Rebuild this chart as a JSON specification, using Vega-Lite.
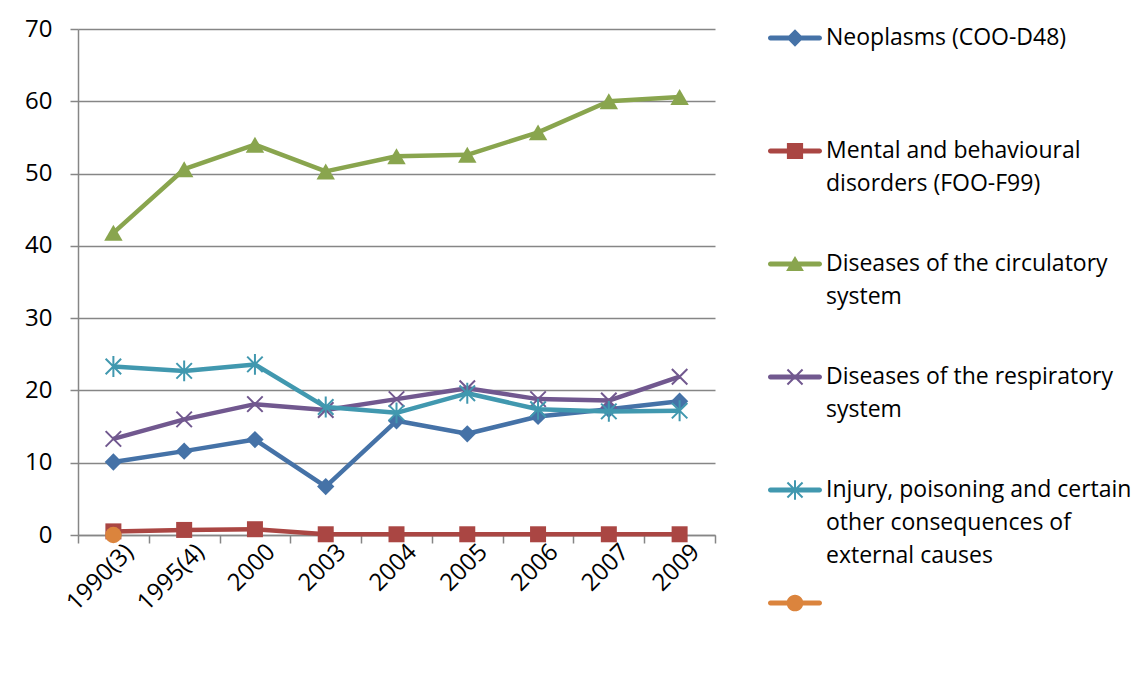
{
  "$schema": "https://vega.github.io/schema/vega-lite/v6.json",
  "width": 637,
  "height": 506,
  "autosize": {"type": "none"},
  "padding": {"left": 78, "top": 29, "right": 431, "bottom": 142},
  "background": "white",
  "config": {
    "view": {"stroke": null},
    "font": "Open Sans",
    "axis": {
      "labelFont": "Open Sans",
      "labelFontSize": 24,
      "labelColor": "#000000",
      "domainColor": "#868686",
      "tickColor": "#868686",
      "gridColor": "#868686",
      "domainWidth": 1.5,
      "tickWidth": 1.5,
      "gridWidth": 1.5,
      "title": null
    },
    "style": {"guide-label": {"lineHeight": 33}}
  },
  "data": {
    "values": [
      {"year": "1990(3)", "series": "Neoplasms (COO-D48)", "value": 10.1},
      {"year": "1995(4)", "series": "Neoplasms (COO-D48)", "value": 11.6},
      {"year": "2000", "series": "Neoplasms (COO-D48)", "value": 13.2},
      {"year": "2003", "series": "Neoplasms (COO-D48)", "value": 6.7},
      {"year": "2004", "series": "Neoplasms (COO-D48)", "value": 15.8},
      {"year": "2005", "series": "Neoplasms (COO-D48)", "value": 14.0},
      {"year": "2006", "series": "Neoplasms (COO-D48)", "value": 16.4},
      {"year": "2007", "series": "Neoplasms (COO-D48)", "value": 17.4},
      {"year": "2009", "series": "Neoplasms (COO-D48)", "value": 18.5},
      {"year": "1990(3)", "series": "Mental and behavioural disorders (FOO-F99)", "value": 0.5},
      {"year": "1995(4)", "series": "Mental and behavioural disorders (FOO-F99)", "value": 0.7},
      {"year": "2000", "series": "Mental and behavioural disorders (FOO-F99)", "value": 0.8},
      {"year": "2003", "series": "Mental and behavioural disorders (FOO-F99)", "value": 0.1},
      {"year": "2004", "series": "Mental and behavioural disorders (FOO-F99)", "value": 0.1},
      {"year": "2005", "series": "Mental and behavioural disorders (FOO-F99)", "value": 0.1},
      {"year": "2006", "series": "Mental and behavioural disorders (FOO-F99)", "value": 0.1},
      {"year": "2007", "series": "Mental and behavioural disorders (FOO-F99)", "value": 0.1},
      {"year": "2009", "series": "Mental and behavioural disorders (FOO-F99)", "value": 0.1},
      {"year": "1990(3)", "series": "Diseases of the circulatory system", "value": 41.8},
      {"year": "1995(4)", "series": "Diseases of the circulatory system", "value": 50.6},
      {"year": "2000", "series": "Diseases of the circulatory system", "value": 54.0},
      {"year": "2003", "series": "Diseases of the circulatory system", "value": 50.3},
      {"year": "2004", "series": "Diseases of the circulatory system", "value": 52.4},
      {"year": "2005", "series": "Diseases of the circulatory system", "value": 52.6},
      {"year": "2006", "series": "Diseases of the circulatory system", "value": 55.7},
      {"year": "2007", "series": "Diseases of the circulatory system", "value": 60.0},
      {"year": "2009", "series": "Diseases of the circulatory system", "value": 60.6},
      {"year": "1990(3)", "series": "Diseases of the respiratory system", "value": 13.3},
      {"year": "1995(4)", "series": "Diseases of the respiratory system", "value": 16.0},
      {"year": "2000", "series": "Diseases of the respiratory system", "value": 18.1},
      {"year": "2003", "series": "Diseases of the respiratory system", "value": 17.3},
      {"year": "2004", "series": "Diseases of the respiratory system", "value": 18.8},
      {"year": "2005", "series": "Diseases of the respiratory system", "value": 20.3},
      {"year": "2006", "series": "Diseases of the respiratory system", "value": 18.8},
      {"year": "2007", "series": "Diseases of the respiratory system", "value": 18.6},
      {"year": "2009", "series": "Diseases of the respiratory system", "value": 21.9},
      {"year": "1990(3)", "series": "Injury, poisoning and certain other consequences of external causes", "value": 23.3},
      {"year": "1995(4)", "series": "Injury, poisoning and certain other consequences of external causes", "value": 22.7},
      {"year": "2000", "series": "Injury, poisoning and certain other consequences of external causes", "value": 23.6},
      {"year": "2003", "series": "Injury, poisoning and certain other consequences of external causes", "value": 17.7},
      {"year": "2004", "series": "Injury, poisoning and certain other consequences of external causes", "value": 16.9},
      {"year": "2005", "series": "Injury, poisoning and certain other consequences of external causes", "value": 19.6},
      {"year": "2006", "series": "Injury, poisoning and certain other consequences of external causes", "value": 17.4},
      {"year": "2007", "series": "Injury, poisoning and certain other consequences of external causes", "value": 17.1},
      {"year": "2009", "series": "Injury, poisoning and certain other consequences of external causes", "value": 17.2},
      {"year": "1990(3)", "series": "Series6", "value": 0}
    ]
  },
  "encoding": {
    "x": {
      "field": "year",
      "type": "nominal",
      "sort": null,
      "bandPosition": 0.5,
      "scale": {"type": "band", "paddingInner": 0, "paddingOuter": 0},
      "axis": {
        "title": null,
        "labelAngle": -45,
        "labelAlign": "right",
        "labelBaseline": "middle",
        "labelPadding": 5,
        "labelOffset": 16,
        "tickBand": "extent",
        "tickSize": 8,
        "grid": false
      }
    },
    "y": {
      "field": "value",
      "type": "quantitative",
      "scale": {"domain": [0, 70], "nice": false, "zero": true},
      "axis": {
        "title": null,
        "values": [0, 10, 20, 30, 40, 50, 60, 70],
        "tickSize": 8,
        "labelPadding": 18,
        "grid": true
      }
    }
  },
  "layer": [
    {
      "transform": [{"filter": "datum.series == 'Neoplasms (COO-D48)'"}],
      "mark": {"type": "line", "strokeWidth": 4.5, "strokeJoin": "round", "color": "#4572A7",
        "point": {"shape": "diamond", "filled": true, "size": 300, "color": "#4572A7", "opacity": 1}}
    },
    {
      "transform": [{"filter": "datum.series == 'Mental and behavioural disorders (FOO-F99)'"}],
      "mark": {"type": "line", "strokeWidth": 4.5, "strokeJoin": "round", "color": "#AA4643",
        "point": {"shape": "square", "filled": true, "size": 256, "color": "#AA4643", "opacity": 1}}
    },
    {
      "transform": [{"filter": "datum.series == 'Diseases of the circulatory system'"}],
      "mark": {"type": "line", "strokeWidth": 4.5, "strokeJoin": "round", "color": "#89A54E",
        "point": {"shape": "triangle-up", "filled": true, "size": 340, "color": "#89A54E", "opacity": 1}}
    },
    {
      "transform": [{"filter": "datum.series == 'Diseases of the respiratory system'"}],
      "mark": {"type": "line", "strokeWidth": 4.5, "strokeJoin": "round", "color": "#71588F",
        "point": {"shape": "M-1,-1L1,1M-1,1L1,-1", "filled": false, "size": 240, "color": "#71588F", "strokeWidth": 2, "opacity": 1}}
    },
    {
      "transform": [{"filter": "datum.series == 'Injury, poisoning and certain other consequences of external causes'"}],
      "mark": {"type": "line", "strokeWidth": 4.5, "strokeJoin": "round", "color": "#4198AF",
        "point": {"shape": "M-1,-1L1,1M-1,1L1,-1M0,-1.35L0,1.35", "filled": false, "size": 240, "color": "#4198AF", "strokeWidth": 2, "opacity": 1}}
    },
    {
      "transform": [{"filter": "datum.series == 'Series6'"}],
      "mark": {"type": "point", "shape": "circle", "filled": true, "size": 270, "color": "#DB843D", "opacity": 1}
    },
    {
      "mark": {"type": "point", "filled": true, "opacity": 0, "size": 0},
      "encoding": {
        "color": {
          "field": "series",
          "type": "nominal",
          "scale": {
            "domain": ["Neoplasms (COO-D48)", "Mental and behavioural disorders (FOO-F99)", "Diseases of the circulatory system", "Diseases of the respiratory system", "Injury, poisoning and certain other consequences of external causes", "Series6"],
            "range": ["#4572A7", "#AA4643", "#89A54E", "#71588F", "#4198AF", "#DB843D"]
          },
          "legend": {
            "title": null,
            "orient": "none",
            "legendX": 690,
            "legendY": -18,
            "padding": 0,
            "symbolSize": 2916,
            "symbolOpacity": 1,
            "symbolStrokeWidth": 0,
            "labelFont": "Open Sans",
            "labelFontSize": 23,
            "labelColor": "#000000",
            "labelLimit": 0,
            "labelOffset": 4,
            "rowPadding": 8,
            "gridAlign": "all",
            "labelExpr": "datum.value == 'Mental and behavioural disorders (FOO-F99)' ? ['Mental and behavioural', 'disorders (FOO-F99)'] : datum.value == 'Diseases of the circulatory system' ? ['Diseases of the circulatory', 'system'] : datum.value == 'Diseases of the respiratory system' ? ['Diseases of the respiratory', 'system'] : datum.value == 'Injury, poisoning and certain other consequences of external causes' ? ['Injury, poisoning and certain', 'other consequences of', 'external causes'] : datum.value == 'Series6' ? '' : datum.label"
          }
        },
        "shape": {
          "field": "series",
          "type": "nominal",
          "scale": {
            "domain": ["Neoplasms (COO-D48)", "Mental and behavioural disorders (FOO-F99)", "Diseases of the circulatory system", "Diseases of the respiratory system", "Injury, poisoning and certain other consequences of external causes", "Series6"],
            "range": [
              "M-0.91,-0.09H0.91A0.09,0.09 0 0,1 0.91,0.09H-0.91A0.09,0.09 0 0,1 -0.91,-0.09ZM0,-0.32L0.32,0L0,0.32L-0.32,0Z",
              "M-0.91,-0.09H0.91A0.09,0.09 0 0,1 0.91,0.09H-0.91A0.09,0.09 0 0,1 -0.91,-0.09ZM-0.3,-0.3H0.3V0.3H-0.3Z",
              "M-0.91,-0.09H0.91A0.09,0.09 0 0,1 0.91,0.09H-0.91A0.09,0.09 0 0,1 -0.91,-0.09ZM0,-0.3L0.33,0.26L-0.33,0.26Z",
              "M-0.91,-0.09H0.91A0.09,0.09 0 0,1 0.91,0.09H-0.91A0.09,0.09 0 0,1 -0.91,-0.09ZM-0.254,-0.306L0.306,0.254L0.254,0.306L-0.306,-0.254ZM-0.254,0.306L-0.306,0.254L0.254,-0.306L0.306,-0.254Z",
              "M-0.91,-0.09H0.91A0.09,0.09 0 0,1 0.91,0.09H-0.91A0.09,0.09 0 0,1 -0.91,-0.09ZM-0.254,-0.306L0.306,0.254L0.254,0.306L-0.306,-0.254ZM-0.254,0.306L-0.306,0.254L0.254,-0.306L0.306,-0.254ZM-0.037,-0.36H0.037V0.36H-0.037Z",
              "M-0.91,-0.09H0.91A0.09,0.09 0 0,1 0.91,0.09H-0.91A0.09,0.09 0 0,1 -0.91,-0.09ZM0.31,0A0.31,0.31 0 1,1 -0.31,0A0.31,0.31 0 1,1 0.31,0Z"
            ]
          },
          "legend": {
            "title": null,
            "orient": "none",
            "legendX": 690,
            "legendY": -18,
            "padding": 0,
            "symbolSize": 2916,
            "symbolOpacity": 1,
            "symbolStrokeWidth": 0,
            "labelFont": "Open Sans",
            "labelFontSize": 23,
            "labelColor": "#000000",
            "labelLimit": 0,
            "labelOffset": 4,
            "rowPadding": 8,
            "gridAlign": "all",
            "labelExpr": "datum.value == 'Mental and behavioural disorders (FOO-F99)' ? ['Mental and behavioural', 'disorders (FOO-F99)'] : datum.value == 'Diseases of the circulatory system' ? ['Diseases of the circulatory', 'system'] : datum.value == 'Diseases of the respiratory system' ? ['Diseases of the respiratory', 'system'] : datum.value == 'Injury, poisoning and certain other consequences of external causes' ? ['Injury, poisoning and certain', 'other consequences of', 'external causes'] : datum.value == 'Series6' ? '' : datum.label"
          }
        }
      }
    }
  ]
}
